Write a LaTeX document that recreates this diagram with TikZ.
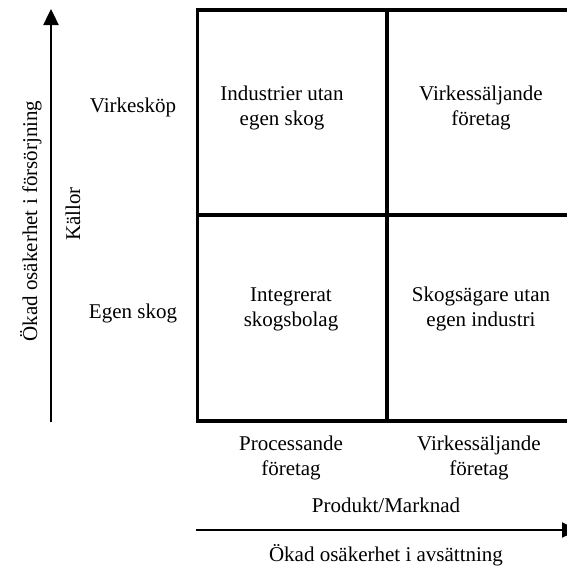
\documentclass[tikz,border=0pt]{standalone}
\usepackage{fontspec}
\setmainfont{Liberation Serif}
\usetikzlibrary{arrows.meta}
\begin{document}
\begin{tikzpicture}[x=1pt,y=-1pt,
  lbl/.style={font=\fontsize{21}{24.5}\selectfont, align=center, inner sep=0pt, anchor=base},
  cell/.style={draw, line width=3.8pt, minimum width=189.5pt, inner sep=0pt},
  axis/.style={line width=2.4pt, -{Triangle[length=16pt,width=15pt]}}]
\clip (0,0) rectangle (567,565);
\fill[white] (0,0) rectangle (567,565);

% 2x2 matrix of company types
\node[cell, minimum height=205pt] (c11) at (292.25,112.5) {};
\node[cell, minimum height=205pt] (c12) at (481.75,112.5) {};
\node[cell, minimum height=206pt] (c21) at (292.25,318) {};
\node[cell, minimum height=206pt] (c22) at (481.75,318) {};

% multi-line labels are anchored at the baseline of their last line
\node[lbl] (t11) at (282,125) {Industrier utan\\egen skog};
\node[lbl] (t12) at (481,125) {Virkessäljande\\företag};
\node[lbl] (t21) at (291,326) {Integrerat\\skogsbolag};
\node[lbl] (t22) at (481,326) {Skogsägare utan\\egen industri};

% row labels (sources)
\node[lbl] (r1) at (133,112) {Virkesköp};
\node[lbl] (r2) at (133,318) {Egen skog};
\node[lbl, rotate=90] (src) at (80,214) {Källor};

% column labels (product/market)
\node[lbl] (k1) at (291,475) {Processande\\företag};
\node[lbl] (k2) at (479,475) {Virkessäljande\\företag};
\node[lbl] (pm) at (386,512) {Produkt/Marknad};

% axes
\coordinate (vb) at (51,422);
\coordinate (vt) at (51,9);
\draw[axis] (vb) -- (vt);
\node[lbl, rotate=90] (vlab) at (37,221) {Ökad osäkerhet i försörjning};

\coordinate (hl) at (196,530);
\coordinate (hr) at (578,530);
\draw[axis] (hl) -- (hr);
\node[lbl] (hlab) at (386,561) {Ökad osäkerhet i avsättning};
\end{tikzpicture}
\end{document}
